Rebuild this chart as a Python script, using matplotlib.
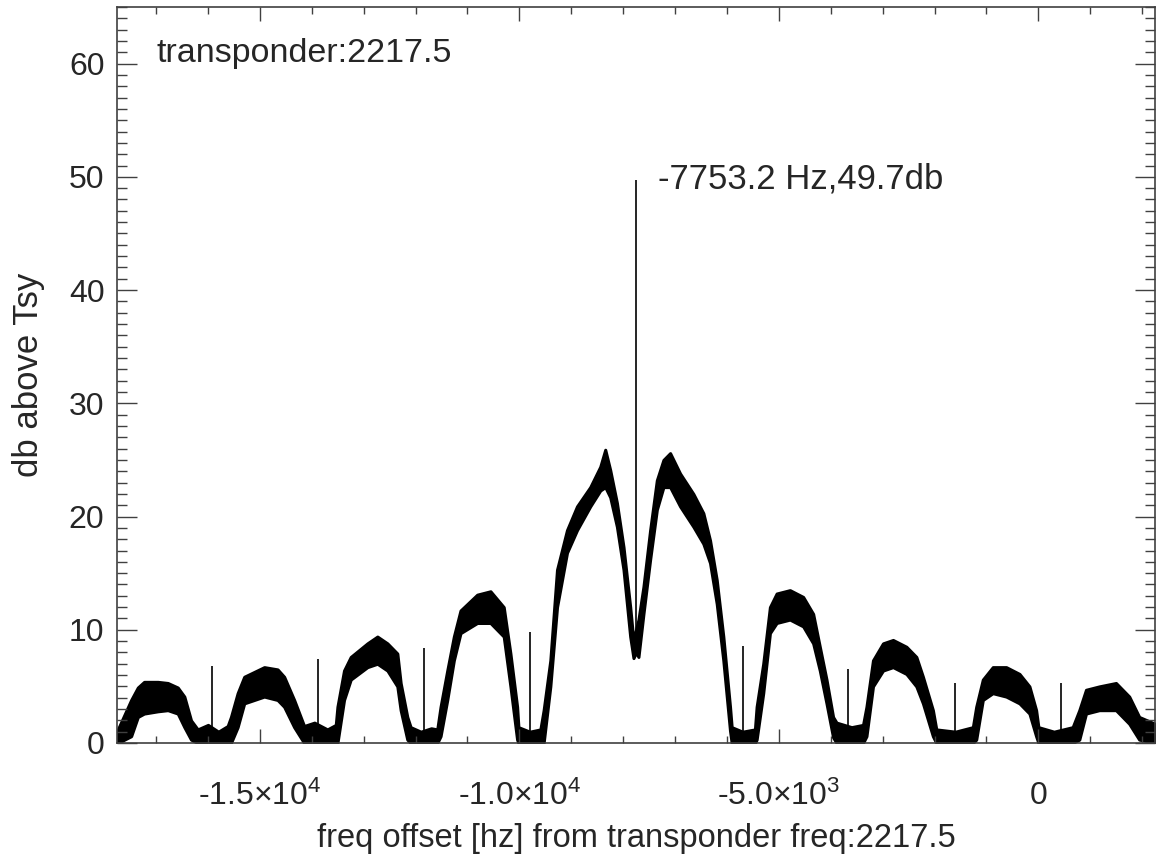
import numpy as np
import matplotlib.pyplot as plt
from matplotlib.ticker import MultipleLocator, FixedLocator

plt.rcParams['font.family'] = ['Liberation Sans', 'DejaVu Sans']
plt.rcParams['mathtext.default'] = 'regular'

# values
transponder = 2217.5
peak_freq = -7753.2
peak_db = 49.7
notch_db = 8.0

# band of the noisy spectrum: frequency offset [Hz], upper / lower edge [db]
freq_hz = [-17753, -17737, -17481, -17352, -17231, -16967, -16775, -16583, -16456, -16327,
           -16198, -16000, -15800, -15621, -15558, -15429, -15302, -14917, -14660, -14533,
           -14340, -14148, -13950, -13700, -13538, -13506, -13379, -13250, -12929, -12737,
           -12544, -12352, -12288, -12160, -12096, -11900, -11700, -11583, -11519, -11390,
           -11263, -11135, -10813, -10558, -10302, -10173, -10044, -10019, -9800, -9596,
           -9533, -9404, -9275, -9083, -8890, -8635, -8442, -8346, -8250, -8121,
           -7994, -7865, -7802, -7753, -7706, -7610, -7481, -7352, -7225, -7096,
           -6904, -6648, -6456, -6327, -6198, -6071, -5942, -5910, -5700, -5462,
           -5429, -5302, -5173, -5044, -4788, -4533, -4340, -4212, -4083, -3956,
           -3890, -3600, -3379, -3313, -3187, -2994, -2802, -2544, -2352, -2225,
           -2033, -1967, -1600, -1263, -1198, -1071, -879, -621, -365, -173,
           -44, 0, 300, 660, 788, 917, 1173, 1494, 1750, 1942, 2247]
upper_db = [1.0, 1.2, 3.8, 4.9, 5.4, 5.4, 5.3, 4.9, 4.1, 2.0,
            1.2, 1.6, 1.0, 1.5, 2.3, 4.4, 5.85, 6.7, 6.5, 5.85,
            3.8, 1.5, 1.8, 1.2, 1.6, 3.2, 6.4, 7.6, 8.8, 9.4,
            8.8, 7.9, 5.3, 2.3, 1.4, 1.0, 1.3, 1.2, 3.2, 6.4,
            9.4, 11.7, 13.1, 13.4, 12.0, 7.9, 3.2, 1.4, 1.0, 1.2,
            2.9, 7.3, 15.3, 18.8, 20.9, 22.6, 24.4, 25.9, 24.1, 21.2,
            17.3, 12.0, 9.0, 10.0, 10.9, 13.8, 18.8, 23.2, 25.0, 25.6,
            23.8, 22.0, 20.3, 17.9, 14.4, 9.4, 3.2, 1.4, 1.0, 1.2,
            3.2, 7.0, 12.0, 13.2, 13.5, 12.9, 11.4, 8.5, 5.6, 2.3,
            1.8, 1.4, 1.6, 3.2, 7.3, 8.8, 9.1, 8.5, 7.6, 5.85,
            2.9, 1.2, 1.0, 1.4, 3.2, 5.6, 6.7, 6.7, 6.1, 5.0,
            2.9, 1.4, 1.0, 1.4, 2.9, 4.7, 5.0, 5.3, 4.1, 2.3, 1.7]
lower_db = [0.0, 0.0, 0.6, 2.3, 2.6, 2.8, 2.9, 2.6, 1.4, 0.3,
            0.0, 0.0, 0.0, 0.0, 0.0, 1.4, 3.5, 4.1, 3.8, 3.2,
            1.4, 0.0, 0.0, 0.0, 0.0, 0.0, 3.8, 5.6, 6.7, 7.0,
            6.4, 5.0, 2.9, 0.3, 0.0, 0.0, 0.0, 0.0, 0.6, 3.8,
            7.3, 9.7, 10.6, 10.6, 9.4, 5.0, 0.3, 0.0, 0.0, 0.0,
            0.0, 5.0, 12.0, 16.8, 18.8, 20.9, 22.3, 22.6, 21.7, 19.1,
            15.3, 9.4, 7.5, 8.0, 7.6, 11.4, 16.2, 20.6, 22.6, 22.6,
            20.9, 19.1, 17.6, 15.9, 12.3, 7.3, 1.1, 0.0, 0.0, 0.0,
            0.3, 4.4, 9.7, 10.6, 10.9, 10.3, 8.8, 6.4, 3.5, 0.5,
            0.0, 0.0, 0.0, 0.6, 5.0, 6.4, 6.7, 6.1, 5.0, 3.5,
            0.6, 0.0, 0.0, 0.0, 0.3, 3.8, 4.4, 4.1, 3.5, 2.6,
            0.6, 0.0, 0.0, 0.0, 0.3, 2.6, 2.9, 2.9, 1.7, 0.3, 0.0]

# narrow spurs seen every ~2 kHz
spur_freq = [-15930, -13890, -11840, -9790, -5700, -3660, -1610, 435]
spur_db = [6.8, 7.4, 8.4, 9.8, 8.6, 6.5, 5.3, 5.3]

xtick_vals = [-15000, -10000, -5000, 0]
xtick_labels = ['-1.5×10$^{4}$', '-1.0×10$^{4}$', '-5.0×10$^{3}$', '0']
ytick_vals = [0, 10, 20, 30, 40, 50, 60]

txt = '#262626'
axc = '#404040'

fig = plt.figure(figsize=(11.57, 8.61), dpi=100)
ax = fig.add_axes([117/1157, 1 - 743/861, 1038/1157, 736/861])

ax.fill_between(freq_hz, lower_db, upper_db, color='black', lw=2.2)
ax.vlines(spur_freq, 0, spur_db, color='black', lw=1.2)
ax.vlines(peak_freq, notch_db, peak_db, color='black', lw=1.2)

ax.set_xlim(peak_freq - 10000, peak_freq + 10000)
ax.set_ylim(0, 65)

ax.xaxis.set_major_locator(FixedLocator(xtick_vals))
ax.set_xticklabels(xtick_labels)
ax.xaxis.set_minor_locator(MultipleLocator(1000))
ax.yaxis.set_major_locator(FixedLocator(ytick_vals))
ax.yaxis.set_minor_locator(MultipleLocator(1))

ax.tick_params(which='both', direction='in', top=True, right=True, color=axc,
               labelcolor=txt, labelsize=23, width=1)
ax.tick_params(axis='x', which='major', length=10, pad=27)
ax.tick_params(axis='x', which='minor', length=5)
ax.tick_params(axis='y', which='major', length=14.5, pad=9)
ax.tick_params(axis='y', which='minor', length=7.2)
for s in ax.spines.values():
    s.set_color(axc)
    s.set_linewidth(1.2)

ax.set_xlabel('freq offset [hz] from transponder freq:%.1f' % transponder,
              fontsize=23.5, color=txt, labelpad=8)
ax.set_ylabel('db above Tsy', fontsize=25, color=txt, labelpad=17)

ax.text(0.0385, 0.925, 'transponder:%.1f' % transponder, transform=ax.transAxes,
        fontsize=24.5, color=txt, va='baseline', ha='left')
ax.annotate('%.1f Hz,%.1fdb' % (peak_freq, peak_db), xy=(peak_freq, peak_db),
            xytext=(16, -6), textcoords='offset points', fontsize=25, color=txt,
            va='baseline', ha='left')

fig.savefig('out.png', dpi=100)
